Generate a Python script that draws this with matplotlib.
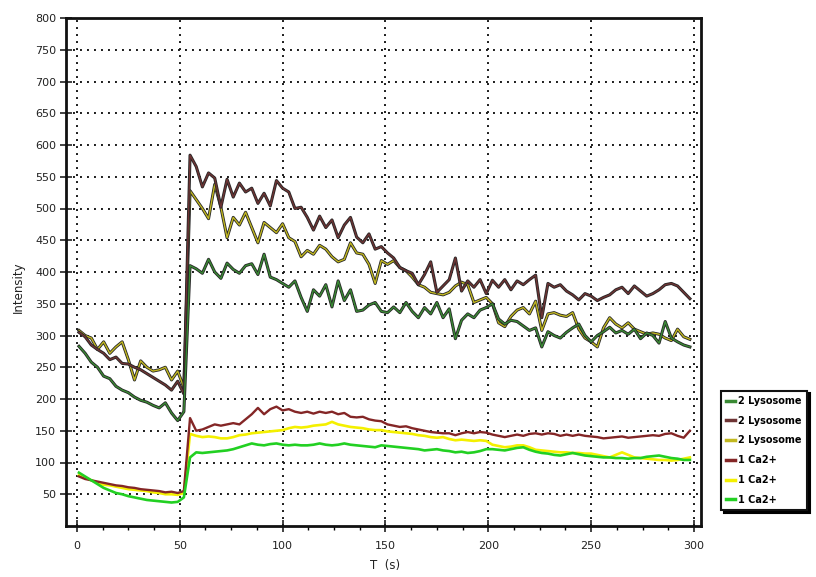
import matplotlib
matplotlib.use("Agg")
import matplotlib.pyplot as plt
import matplotlib.patheffects as pe
from matplotlib.ticker import MultipleLocator

# time axis (s)
t = [1 + 3 * k for k in range(100)]

lyso_green = [283, 272, 258, 250, 236, 232, 220, 214, 210, 203, 198, 195, 190, 186, 194, 178, 166, 180,
              410, 405, 398, 420, 400, 390, 414, 404, 398, 410, 413, 396, 428, 392, 388, 382, 376, 386,
              360, 338, 372, 362, 380, 345, 386, 355, 372, 338, 340, 348, 352, 338, 336, 345, 336, 352,
              338, 328, 344, 334, 352, 328, 342, 295, 324, 334, 328, 340, 344, 350, 326, 318, 324, 322,
              315, 308, 312, 282, 306, 300, 296, 305, 312, 318, 300, 290, 300, 306, 313, 304, 308, 302,
              310, 295, 304, 300, 288, 322, 296, 290, 285, 282]
lyso_brown = [305, 298, 285, 278, 272, 262, 266, 256, 255, 250, 246, 240, 234, 228, 222, 214, 228, 208,
              584, 566, 534, 556, 548, 502, 546, 518, 540, 526, 532, 508, 524, 504, 544, 532, 526, 500,
              502, 486, 466, 488, 470, 482, 454, 474, 486, 455, 446, 460, 436, 440, 430, 422, 407, 402,
              398, 380, 396, 416, 368, 378, 388, 422, 370, 386, 376, 388, 366, 387, 376, 388, 372, 386,
              380, 388, 395, 328, 382, 376, 380, 370, 364, 356, 366, 362, 355, 360, 364, 372, 376, 366,
              378, 370, 362, 366, 372, 380, 382, 378, 368, 358]
lyso_olive = [308, 300, 296, 278, 290, 272, 282, 290, 262, 230, 260, 250, 244, 246, 250, 230, 244, 218,
              528, 514, 500, 484, 538, 502, 454, 486, 474, 494, 470, 446, 478, 470, 462, 476, 454, 448,
              424, 434, 428, 442, 436, 424, 416, 420, 446, 430, 428, 412, 382, 418, 412, 418, 407, 402,
              392, 380, 376, 368, 366, 364, 368, 378, 384, 380, 352, 356, 360, 350, 320, 314, 330, 340,
              344, 334, 354, 308, 334, 336, 332, 330, 336, 310, 296, 290, 282, 312, 328, 318, 312, 320,
              310, 306, 302, 304, 302, 296, 292, 310, 298, 294]
ca_red = [78, 74, 72, 70, 68, 66, 64, 63, 61, 60, 58, 57, 56, 55, 53, 54, 52, 55,
          170, 150, 152, 156, 160, 158, 160, 162, 160, 168, 176, 186, 176, 184, 188, 182, 184, 180,
          178, 180, 177, 180, 178, 180, 176, 178, 172, 171, 172, 168, 166, 165, 160, 158, 156, 157,
          154, 152, 150, 148, 147, 146, 146, 143, 146, 148, 146, 148, 147, 144, 142, 140, 142, 144,
          142, 145, 146, 144, 146, 145, 142, 144, 142, 144, 142, 141, 140, 138, 139, 140, 141, 139,
          140, 141, 142, 143, 142, 145, 146, 142, 139, 150]
ca_yellow = [80, 76, 72, 68, 65, 64, 62, 60, 58, 57, 56, 55, 53, 52, 50, 50, 49, 52,
             145, 142, 140, 141, 140, 138, 138, 140, 143, 144, 146, 147, 148, 149, 150, 151, 154, 156,
             155, 156, 158, 159, 160, 164, 160, 158, 156, 155, 154, 152, 151, 151, 149, 148, 147, 146,
             145, 143, 142, 140, 139, 140, 137, 135, 136, 135, 134, 135, 134, 128, 126, 124, 125, 127,
             127, 124, 120, 119, 118, 117, 116, 116, 115, 115, 114, 114, 112, 110, 108, 112, 116, 112,
             108, 107, 106, 105, 104, 104, 103, 104, 106, 108]
ca_green = [84, 78, 72, 66, 60, 56, 52, 50, 47, 45, 43, 41, 40, 39, 38, 37, 38, 45,
            108, 116, 115, 116, 117, 118, 119, 121, 124, 127, 130, 128, 127, 129, 130, 128, 127, 128,
            127, 127, 128, 130, 128, 127, 128, 130, 128, 127, 126, 125, 124, 127, 126, 125, 124, 123,
            122, 121, 119, 120, 121, 119, 118, 116, 117, 115, 116, 118, 121, 121, 120, 119, 121, 123,
            124, 120, 117, 115, 114, 112, 111, 113, 115, 113, 111, 110, 109, 108, 108, 107, 107, 106,
            107, 107, 109, 110, 111, 109, 107, 106, 104, 104]

labels = ["2 Lysosome", "2 Lysosome", "2 Lysosome", "1 Ca2+", "1 Ca2+", "1 Ca2+"]

x_ticks = [0, 50, 100, 150, 200, 250, 300]
y_ticks = [50, 100, 150, 200, 250, 300, 350, 400, 450, 500, 550, 600, 650, 700, 750, 800]

fig = plt.figure(figsize=(8.16, 5.77), dpi=100)
ax = fig.add_axes([66 / 816, 1 - 526 / 577, (701 - 66) / 816, (526 - 18) / 577])

edge = [pe.Stroke(linewidth=2.2, foreground="#262626"), pe.Normal()]
l1, = ax.plot(t, lyso_olive, color="#c2b820", lw=1.0, path_effects=edge, zorder=3)
l2, = ax.plot(t, lyso_brown, color="#6e3434", lw=1.0, path_effects=edge, zorder=4)
l3, = ax.plot(t, lyso_green, color="#3a8a34", lw=1.0, path_effects=edge, zorder=5)
l4, = ax.plot(t, ca_red, color="#842626", lw=1.7, zorder=4)
l5, = ax.plot(t, ca_yellow, color="#f4f000", lw=1.9, zorder=3)
l6, = ax.plot(t, ca_green, color="#22d022", lw=1.9, zorder=5)

ax.set_xlim(-5.3, 303.4)
ax.set_ylim(0, 800)
ax.set_xticks(x_ticks)
ax.set_yticks(y_ticks)
ax.xaxis.set_minor_locator(MultipleLocator(12.5))
ax.tick_params(axis="both", which="major", direction="inout", length=8, width=1.2,
               labelsize=8, colors="#222222")
ax.tick_params(axis="x", which="minor", direction="out", length=3, width=1)
ax.tick_params(axis="x", which="major", pad=7)
ax.tick_params(axis="y", which="major", pad=3)
ax.grid(True, which="major", color="#1a1a1a", linestyle=(0, (1, 2.6)), linewidth=1.4)
for s in ax.spines.values():
    s.set_linewidth(2.0)
    s.set_color("#111111")

fig.text(18 / 816, 1 - 287 / 577, "Intensity", rotation=90, ha="center", va="center",
         fontsize=8.5, color="#222222")
fig.text(385 / 816, 1 - 565 / 577, "T  (s)", ha="center", va="center", fontsize=8.5,
         color="#222222")

leg = fig.legend([l3, l2, l1, l4, l5, l6], labels,
                 loc="lower left", bbox_to_anchor=(721 / 816, 1 - 510 / 577),
                 prop={"weight": "bold", "size": 7},
                 frameon=True, fancybox=False, shadow={"color": "black", "alpha": 1},
                 edgecolor="#111111", handlelength=0.9, handletextpad=0.3,
                 labelspacing=1.0, borderpad=0.55, borderaxespad=0)
leg.get_frame().set_linewidth(1.5)
for h in leg.legend_handles:
    h.set_linewidth(2.5)
    h.set_path_effects([])

fig.savefig("out.png", dpi=100)
